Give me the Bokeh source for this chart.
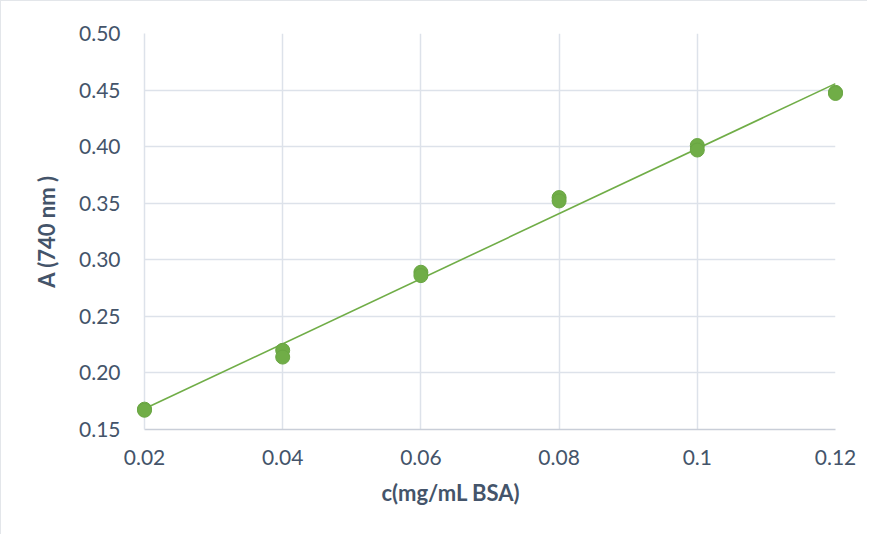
import numpy as np
from bokeh.plotting import figure
from bokeh.models import Range1d, FixedTicker, CustomJSTickFormatter, Title
from bokeh.embed import file_html
from bokeh.resources import INLINE

# Data
conc = [0.02, 0.02, 0.04, 0.04, 0.06, 0.06, 0.08, 0.08, 0.10, 0.10, 0.12, 0.12]
absorb = [0.168, 0.167, 0.220, 0.214, 0.289, 0.286, 0.355, 0.352, 0.401, 0.397, 0.448, 0.447]
x_ticks = [0.02, 0.04, 0.06, 0.08, 0.10, 0.12]
x_tick_labels = ["0.02", "0.04", "0.06", "0.08", "0.1", "0.12"]
y_ticks = [0.15, 0.20, 0.25, 0.30, 0.35, 0.40, 0.45, 0.50]
x_title = "c(mg/mL BSA)"
y_title = "A (740 nm )"

slope, intercept = np.polyfit(conc, absorb, 1)
fit_x = [min(conc), max(conc)]
fit_y = [slope * v + intercept for v in fit_x]

GREEN = "#70ad47"
TEXT = "#44546a"
GRID = "#dde2ea"
FONT = "Lato"

p = figure(width=867, height=534, output_backend="svg", toolbar_location=None,
           x_range=Range1d(0.02, 0.12), y_range=Range1d(0.15, 0.50),
           min_border_left=143, min_border_top=32, min_border_right=33, min_border_bottom=106)
p.styles = {"border-top": "1px solid #e3e6ea", "border-left": "1px solid #e3e6ea"}

p.outline_line_color = None
p.background_fill_color = "white"
p.border_fill_color = "white"

p.xaxis.ticker = FixedTicker(ticks=x_ticks)
p.xaxis.major_label_overrides = {t: l for t, l in zip(x_ticks, x_tick_labels)}
p.yaxis.ticker = FixedTicker(ticks=y_ticks)
p.yaxis.formatter = CustomJSTickFormatter(code="return tick.toFixed(2);")

for ax in (p.xaxis[0], p.yaxis[0]):
    ax.major_tick_line_color = None
    ax.minor_tick_line_color = None
    ax.major_label_text_font = FONT
    ax.major_label_text_font_size = "21px"
    ax.major_label_text_color = TEXT

p.xaxis.axis_line_color = "#c9ced8"
p.xaxis.axis_line_width = 1.5
p.yaxis.axis_line_color = GRID
p.yaxis.axis_line_width = 1.5
p.xaxis.major_label_standoff = 14
p.yaxis.major_label_standoff = 18

p.xgrid.grid_line_color = GRID
p.ygrid.grid_line_color = GRID
p.xgrid.grid_line_width = 1.5
p.ygrid.grid_line_width = 1.5

# axis titles as side titles so they can sit where the reference has them
p.add_layout(Title(text=x_title, align="left", offset=237, standoff=19,
                   text_font=FONT, text_font_style="bold", text_font_size="22px",
                   text_color=TEXT), "below")
p.add_layout(Title(text=y_title, align="center", offset=-2, standoff=34,
                   text_font=FONT, text_font_style="bold", text_font_size="22px",
                   text_color=TEXT), "left")

p.line(fit_x, fit_y, line_color=GREEN, line_width=1.6)
p.scatter(conc, absorb, size=14, fill_color=GREEN, line_color="#6aa643", line_width=1,
          level="overlay")

open("out.html", "w").write(file_html(p, INLINE))
